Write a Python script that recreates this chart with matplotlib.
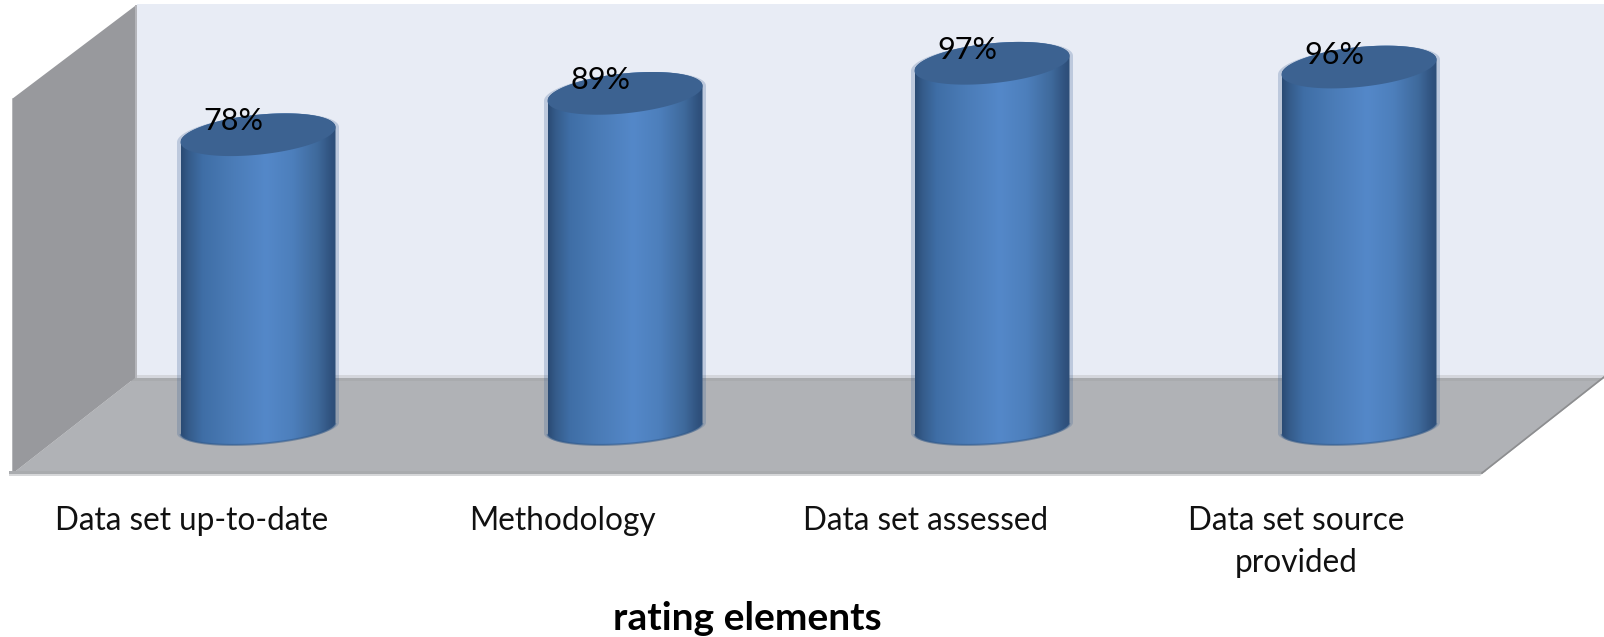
import numpy as np
import matplotlib
matplotlib.use("Agg")
import matplotlib.pyplot as plt
from matplotlib.colors import LinearSegmentedColormap
from matplotlib.patches import Polygon
from matplotlib.transforms import Affine2D

categories = ["Data set up-to-date", "Methodology", "Data set assessed",
              "Data set source\nprovided"]
values = [78, 89, 97, 96]
value_labels = ["78%", "89%", "97%", "96%"]
x_title = "rating elements"

W, H = 1604, 637
PX_PER_VALUE = 3.76
PX_PER_CAT = 367.0
X0_PX, Y0_PX = 258.0, 428.0

plt.rcParams["font.family"] = ["Lato", "DejaVu Sans"]
fig = plt.figure(figsize=(W / 100, H / 100), dpi=100, facecolor="white")
ax = fig.add_axes([0, 0, 1, 1])
ax.set_axis_off()
xlim = (-X0_PX / PX_PER_CAT, (W - X0_PX) / PX_PER_CAT)
ylim = ((Y0_PX - H) / PX_PER_VALUE, Y0_PX / PX_PER_VALUE)

# Chart box: walls and floor are placed in image pixels, y measured from the top
box = Affine2D().scale(1, -1).translate(0, H)


def panel(points, color, z=1, **kw):
    ax.add_patch(Polygon(points, closed=True, facecolor=color, edgecolor="none",
                         transform=box, zorder=z, **kw))


panel([(137, 4), (W, 4), (W, 376), (137, 376)], "#e8ecf5")
panel([(136, 375), (W, 375), (W, 378), (136, 378)], "#d4d6dc", z=1.1)
panel([(12, 474), (135, 378), (W, 378), (1482, 474)], "#b0b2b6", z=1.2)
panel([(134, 378), (W, 378), (W - 4, 381), (130, 381)], "#a9abae", z=1.3)
panel([(12, 99), (135, 6), (135, 378), (12, 474)], "#98999d", z=1.4)
panel([(135, 5), (137, 5), (137, 378), (135, 378)], "#b4b5ba", z=1.5)
panel([(12, 99), (13, 98), (13, 473), (12, 474)], "#b4b5b8", z=1.5)
panel([(9, 471), (1486, 471), (1482, 474), (9, 474)], "#a9abae", z=1.6)
panel([(9, 474), (1482, 474), (1480, 476), (9, 476)], "#d6d7d9", z=1.6)
ax.plot([W, 1482], [377, 473], color="#8d8e90", lw=1.2, transform=box, zorder=1.7)

# Cylinders: drawn in data units, so each height follows its value
shade = LinearSegmentedColormap.from_list(
    "cyl",
    [(0.00, "#2a4b74"), (0.05, "#355c8b"), (0.14, "#3f6ea6"), (0.32, "#4a7bb6"),
     (0.55, "#5488c9"), (0.72, "#4d7fbc"), (0.88, "#3f6a9c"), (0.97, "#30527e"),
     (1.00, "#2d4e78")])
gradient = np.linspace(0, 1, 256).reshape(1, -1)

half_w = 77.5 / PX_PER_CAT
top_b, top_k = 20.0 / PX_PER_VALUE, 7.5 / PX_PER_VALUE
bot_b, bot_k = 16.0 / PX_PER_VALUE, 5.5 / PX_PER_VALUE
label_shift = [-66, -63, -66, -63]
value_lift = [14, 13, 13, 12]


def ring(cx, cy, a, b, k, t):
    return np.column_stack([cx + a * np.cos(t), cy + b * np.sin(t) + k * np.cos(t)])


for i, (v, lab) in enumerate(zip(values, value_labels)):
    lower = np.linspace(np.pi, 2 * np.pi, 60)
    upper = np.linspace(0, np.pi, 60)
    outline = np.vstack([ring(i, 0, half_w, bot_b, bot_k, lower),
                         ring(i, v, half_w, top_b, top_k, upper)])

    # Pale fringe down both sides of the body
    fringe = 3.5 / PX_PER_CAT
    fringe_outline = np.vstack([ring(i, 0, half_w + fringe, bot_b, bot_k, lower),
                                ring(i, v, half_w + fringe, top_b, top_k, upper)])
    ax.add_patch(Polygon(fringe_outline, closed=True, facecolor="#3f6396", alpha=0.25,
                         edgecolor="none", zorder=2))

    img = ax.imshow(gradient, cmap=shade, aspect="auto", interpolation="bilinear",
                    extent=(i - half_w, i + half_w, -8, v + 8), zorder=3)
    img.set_clip_path(Polygon(outline, closed=True, transform=ax.transData))

    # Darker rim along the foot of the cylinder
    foot = ring(i, 0, half_w, bot_b, bot_k, np.linspace(np.pi * 1.03, np.pi * 1.97, 50))
    ax.plot(foot[:, 0], foot[:, 1], color="#2f5685", lw=1.5, alpha=0.5, zorder=3.2)

    lid = ring(i, v, half_w, top_b, top_k, np.linspace(0, 2 * np.pi, 160))
    ax.add_patch(Polygon(lid, closed=True, facecolor="#3c6291", edgecolor="none", zorder=4))

    ax.annotate(lab, xy=(i, v), xytext=(-25, value_lift[i]), textcoords="offset pixels",
                ha="center", va="center", fontsize=22, color="black", zorder=5)

    ax.annotate(categories[i], xy=(i, 0), xytext=(label_shift[i], -78),
                textcoords="offset pixels", ha="center", va="top", fontsize=22.7,
                color="#111111", linespacing=1.5, zorder=5)

ax.text(747 / W, 1 - 619 / H, x_title, transform=ax.transAxes, ha="center", va="center",
        fontsize=28, fontweight="bold", color="black")

ax.set_xlim(xlim)
ax.set_ylim(ylim)
fig.savefig("out.png", dpi=100, facecolor="white")
